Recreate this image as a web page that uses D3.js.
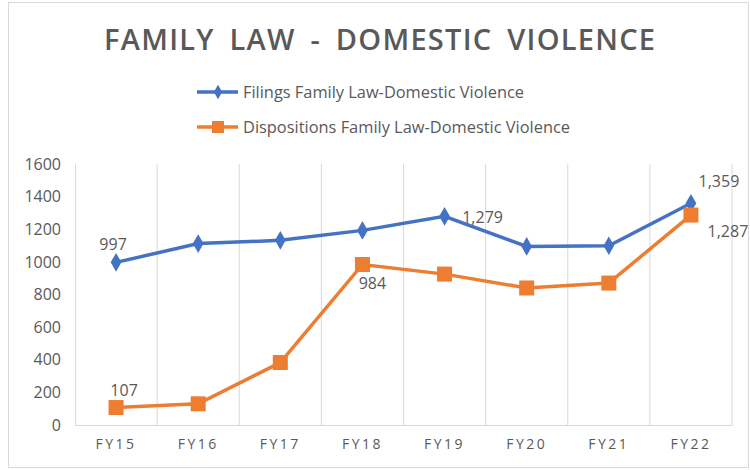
<!DOCTYPE html>
<html>
<head>
<meta charset="utf-8">
<script src="https://cdn.jsdelivr.net/npm/d3@7"></script>
<style>
  body { margin: 0; background: #fff; }
  svg { display: block; }
  text { font-family: "Open Sans", "DejaVu Sans", sans-serif; fill: #595959; }
</style>
</head>
<body>
<svg id="chart" width="750" height="470"></svg>
<script>
// chart data
const years = ["FY15", "FY16", "FY17", "FY18", "FY19", "FY20", "FY21", "FY22"];
const filings = [997, 1112, 1132, 1193, 1279, 1095, 1099, 1359];
const dispositions = [107, 130, 383, 984, 925, 840, 870, 1287];
const yTicks = [0, 200, 400, 600, 800, 1000, 1200, 1400, 1600];

const svg = d3.select("#chart");

// outer frame of the chart
svg.append("rect")
    .attr("x", 8.5).attr("y", 2.5)
    .attr("width", 740).attr("height", 465)
    .attr("fill", "#fff").attr("stroke", "#d9d9d9");

const plotLeft = 75, plotRight = 732, plotTop = 164, plotBottom = 425;

let x = d3.scaleBand().domain(years).range([plotLeft, plotRight]);
let y = d3.scaleLinear().domain([0, 1600]).range([plotBottom, plotTop]);

// title
svg.append("text")
    .attr("x", 104).attr("y", 50)
    .attr("font-size", 29).attr("font-weight", 600)
    .attr("word-spacing", 6)
    .attr("textLength", 551)
    .attr("lengthAdjust", "spacing")
    .text("FAMILY LAW - DOMESTIC VIOLENCE");

// vertical grid lines between categories
svg.append("g").selectAll("line")
    .data(years)
    .join("line")
    .attr("x1", d => x(d) + x.bandwidth())
    .attr("x2", d => x(d) + x.bandwidth())
    .attr("y1", plotTop).attr("y2", plotBottom)
    .attr("stroke", "#d9d9d9");

// axes
let yAxis = d3.axisLeft(y).tickValues(yTicks).tickFormat(d3.format("d")).tickSize(0).tickPadding(14);
let gy = svg.append("g").attr("transform", "translate(" + plotLeft + ",0)").call(yAxis);
gy.select(".domain").attr("stroke", "#d9d9d9");
gy.selectAll("text").attr("font-size", 16).attr("fill", "#595959")
    .style("font-family", "'Open Sans', sans-serif");

let xAxis = d3.axisBottom(x).tickSize(0).tickPadding(14);
let gx = svg.append("g").attr("transform", "translate(0," + plotBottom + ")").call(xAxis);
gx.select(".domain").attr("stroke", "#d9d9d9");
gx.selectAll("text").attr("font-size", 14).attr("fill", "#595959")
    .attr("letter-spacing", 2.5)
    .style("font-family", "'Open Sans', sans-serif");

const cx = d => x(d) + x.bandwidth() / 2;

let line = d3.line().x((d, i) => cx(years[i])).y(d => y(d));

// filings series
svg.append("path").datum(filings)
    .attr("d", line).attr("fill", "none")
    .attr("stroke", "#4472c4").attr("stroke-width", 3.5);
svg.append("g").selectAll("path")
    .data(filings)
    .join("path")
    .attr("d", d3.symbol(d3.symbolDiamond, 100))
    .attr("transform", (d, i) => "translate(" + cx(years[i]) + "," + y(d) + ")")
    .attr("fill", "#4472c4");

// dispositions series
svg.append("path").datum(dispositions)
    .attr("d", line).attr("fill", "none")
    .attr("stroke", "#ed7d31").attr("stroke-width", 3.5);
svg.append("g").selectAll("rect")
    .data(dispositions)
    .join("rect")
    .attr("x", (d, i) => cx(years[i]) - 7.5)
    .attr("y", d => y(d) - 7.5)
    .attr("width", 15).attr("height", 15)
    .attr("fill", "#ed7d31");

// data labels
const labels = [
    { i: 0, v: filings[0], dx: -3, dy: -12 },
    { i: 0, v: dispositions[0], dx: 8, dy: -12 },
    { i: 3, v: dispositions[3], dx: 10, dy: 25 },
    { i: 4, v: filings[4], dx: 38, dy: 7 },
    { i: 7, v: filings[7], dx: 28, dy: -16 },
    { i: 7, v: dispositions[7], dx: 37, dy: 22 }
];
svg.append("g").selectAll("text")
    .data(labels)
    .join("text")
    .attr("x", d => cx(years[d.i]) + d.dx)
    .attr("y", d => y(d.v) + d.dy)
    .attr("text-anchor", "middle")
    .attr("font-size", 16)
    .attr("fill", "#7f7f7f")
    .text(d => d3.format(",")(d.v));

// legend
const legend = [
    { name: "Filings Family Law-Domestic Violence", color: "#4472c4", shape: "diamond", y: 92 },
    { name: "Dispositions Family Law-Domestic Violence", color: "#ed7d31", shape: "square", y: 127 }
];
legend.forEach(function (l) {
    let g = svg.append("g");
    g.append("line").attr("x1", 197).attr("x2", 238)
        .attr("y1", l.y).attr("y2", l.y)
        .attr("stroke", l.color).attr("stroke-width", 3.5);
    if (l.shape === "diamond") {
        g.append("path").attr("d", d3.symbol(d3.symbolDiamond, 60))
            .attr("transform", "translate(218," + l.y + ")")
            .attr("fill", l.color);
    } else {
        g.append("rect").attr("x", 212).attr("y", l.y - 6)
            .attr("width", 12).attr("height", 12).attr("fill", l.color);
    }
    g.append("text").attr("x", 243).attr("y", l.y + 6)
        .attr("font-size", 16)
        .attr("textLength", l.shape === "diamond" ? 281 : 327)
        .attr("lengthAdjust", "spacingAndGlyphs")
        .text(l.name);
});
</script>
</body>
</html>
